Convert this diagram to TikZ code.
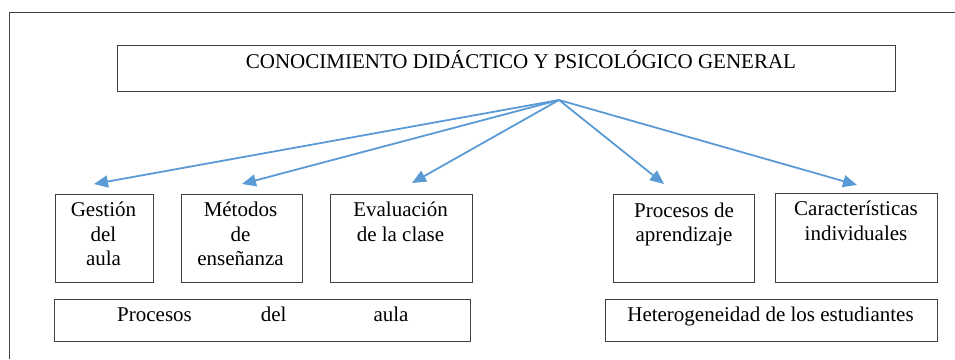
\documentclass[tikz,border=0pt]{standalone}
\usepackage{fontspec}
\setmainfont{Liberation Serif}
\usetikzlibrary{arrows.meta}
\definecolor{arrowblue}{HTML}{5B9BD5}
\definecolor{framegray}{HTML}{404040}
\begin{document}
\begin{tikzpicture}[x=1pt,y=-1pt,
  box/.style={draw=framegray,line width=0.9pt,inner sep=0pt,anchor=north west},
  txt/.style={inner sep=0pt,align=center,font=\fontsize{21}{24.5}\selectfont},
  conn/.style={draw=arrowblue,line width=1.8pt,-{Triangle[length=14pt,width=12pt]}}]
\useasboundingbox (0,0) rectangle (955,359);
% outer frame
\draw[framegray,line width=1pt] (9,359) -- (9,12) -- (955,12);
% boxes
\node[box,minimum width=778pt,minimum height=46pt] (top) at (117,45) {};
\node[box,minimum width=98pt,minimum height=88pt] (ges) at (55,194) {};
\node[box,minimum width=121pt,minimum height=88pt] (met) at (181,194) {};
\node[box,minimum width=142pt,minimum height=88pt] (eva) at (330,194) {};
\node[box,minimum width=141pt,minimum height=88pt] (pro) at (613,194) {};
\node[box,minimum width=162pt,minimum height=89pt] (car) at (775,193) {};
\node[box,minimum width=416pt,minimum height=42pt] (pda) at (54,299) {};
\node[box,minimum width=332pt,minimum height=42pt] (het) at (605,299) {};
% texts
\node[txt,anchor=north] (ttop) at (521,49.85) {\strut CONOCIMIENTO DIDÁCTICO Y PSICOLÓGICO GENERAL};
\node[txt,anchor=north] (tges) at (103.5,199.5) {\strut Gestión\\del\\aula};
\node[txt,anchor=north] (tmet) at (240.5,199.5) {\strut Métodos\\de\\enseñanza};
\node[txt,anchor=north] (teva) at (400.5,199.5) {\strut Evaluación\\de la clase};
\node[txt,anchor=north] (tpro) at (684,199.85) {\strut Procesos de\\aprendizaje};
\node[txt,anchor=north] (tcar) at (856,198.55) {\strut Características\\individuales};
\node[txt,anchor=base west] (tpda) at (117,321.7) {Procesos\hspace{69pt}del\hspace{87pt}aula};
\node[txt,anchor=base] (thet) at (770.5,321.7) {Heterogeneidad de los estudiantes};
% connectors
\coordinate (src) at (559,100);
\coordinate (eges) at (94,184);
\coordinate (emet) at (242,184);
\coordinate (eeva) at (412,183);
\coordinate (epro) at (664,184);
\coordinate (ecar) at (857,185);
\draw[conn] (src) -- (eges);
\draw[conn] (src) -- (emet);
\draw[conn] (src) -- (eeva);
\draw[conn] (src) -- (epro);
\draw[conn] (src) -- (ecar);
\end{tikzpicture}
\end{document}
